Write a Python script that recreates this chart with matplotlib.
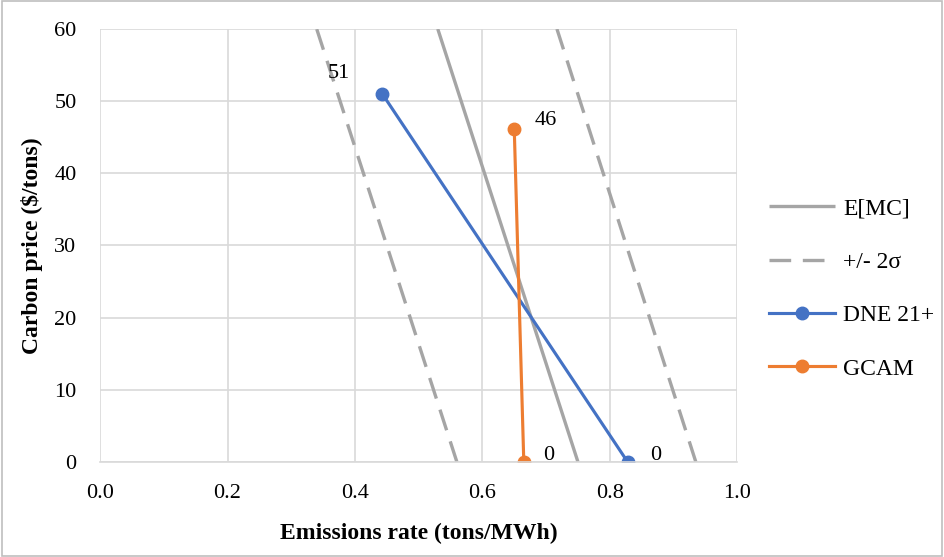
import matplotlib
matplotlib.use("Agg")
import matplotlib.pyplot as plt

plt.rcParams['font.family'] = ['Liberation Serif', 'DejaVu Serif']

# Data
emc_x = [0.75, 0.53]
emc_y = [0, 60]
sig_lo_x = [0.56, 0.34]
sig_hi_x = [0.935, 0.717]
sig_y = [0, 60]
dne_x = [0.443, 0.828]
dne_y = [51, 0]
gcam_x = [0.650, 0.665]
gcam_y = [46.2, 0]
dne_labels = ["51", "0"]
gcam_labels = ["46", "0"]
xticks = [0.0, 0.2, 0.4, 0.6, 0.8, 1.0]
yticks = [0, 10, 20, 30, 40, 50, 60]

gray = '#a5a5a5'
blue = '#4472c4'
orange = '#ed7d31'

fig = plt.figure(figsize=(9.44, 5.57), dpi=100)
ax = fig.add_axes([0.106, 0.1706, 0.675, 0.7774])

ax.plot(emc_x, emc_y, color=gray, lw=2.4, label='E[MC]', solid_capstyle='butt')
ax.plot(sig_lo_x, sig_y, color=gray, lw=2.4, dashes=(6.5, 3.5), label='+/- 2σ')
ax.plot(sig_hi_x, sig_y, color=gray, lw=2.4, dashes=(6.5, 3.5))
ax.plot(dne_x, dne_y, color=blue, lw=2.25, marker='o', ms=9, label='DNE 21+')
ax.plot(gcam_x, gcam_y, color=orange, lw=2.25, marker='o', ms=9, label='GCAM')

fs = 16
# data labels
ax.annotate(dne_labels[0], (dne_x[0], dne_y[0]), xytext=(-31, 15), textcoords='offset points',
            fontsize=fs, ha='center', va='center')
ax.annotate(dne_labels[1], (dne_x[1], dne_y[1]), xytext=(20, 5), textcoords='offset points',
            fontsize=fs, ha='center', va='center')
ax.annotate(gcam_labels[0], (gcam_x[0], gcam_y[0]), xytext=(23, 6), textcoords='offset points',
            fontsize=fs, ha='center', va='center')
ax.annotate(gcam_labels[1], (gcam_x[1], gcam_y[1]), xytext=(18, 5), textcoords='offset points',
            fontsize=fs, ha='center', va='center')

ax.set_xlim(0, 1.0)
ax.set_ylim(0, 60)
ax.set_xticks(xticks)
ax.set_xticklabels([f"{v:.1f}" for v in xticks])
ax.set_yticks(yticks)
ax.grid(True, color='#d9d9d9', lw=1.2)
ax.set_axisbelow(True)
for s in ['top', 'right', 'left']:
    ax.spines[s].set_visible(False)
ax.spines['bottom'].set_color('#d9d9d9')
ax.spines['bottom'].set_linewidth(1.2)
ax.tick_params(axis='x', length=0, labelsize=fs, pad=16)
ax.tick_params(axis='y', length=0, labelsize=fs, pad=17)
ax.set_xlabel('Emissions rate (tons/MWh)', fontsize=17, fontweight='bold', labelpad=14)
ax.set_ylabel('Carbon price ($/tons)', fontsize=17, fontweight='bold', labelpad=8)

leg = ax.legend(loc='center left', bbox_to_anchor=(1.016, 0.40), frameon=False, fontsize=17,
                handlelength=2.8, labelspacing=1.35, handletextpad=0.35)

# figure border
fig.patches.append(plt.Rectangle((0.002, 0.002), 0.996, 0.996, transform=fig.transFigure,
                                 fill=False, edgecolor='#bfbfbf', lw=1.2))

fig.savefig('out.png', dpi=100)
